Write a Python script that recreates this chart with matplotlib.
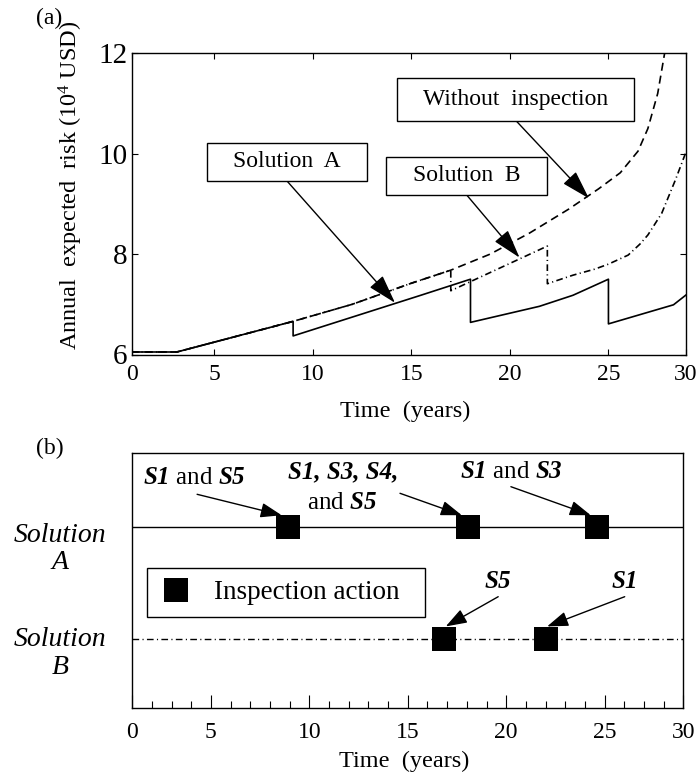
import matplotlib
matplotlib.use('Agg')
import matplotlib.pyplot as plt
import matplotlib.transforms as mtransforms
from matplotlib.patches import Rectangle
from matplotlib.lines import Line2D

plt.rcParams['font.family'] = ['Liberation Serif', 'DejaVu Serif']
plt.rcParams['mathtext.fontset'] = 'custom'
plt.rcParams['mathtext.rm'] = 'Liberation Serif'
plt.rcParams['mathtext.it'] = 'Liberation Serif:italic'
plt.rcParams['mathtext.bf'] = 'Liberation Serif:bold:italic'
plt.rcParams['lines.scale_dashes'] = False

# ---------------- data (a) ----------------
time_no_insp = [0.8, 3.1, 9.0, 12.0, 15.0, 17.0, 19.0, 21.0, 23.0, 24.5, 25.6, 26.5, 27.0, 27.5, 27.85, 28.2]
risk_no_insp = [6.05, 6.05, 6.66, 7.0, 7.42, 7.68, 8.0, 8.42, 8.9, 9.3, 9.62, 10.05, 10.5, 11.2, 12.0, 12.8]

time_sol_a = [0.8, 3.1, 9.0, 9.0, 15.4, 18.0, 18.0, 21.5, 23.2, 25.0, 25.0, 28.3, 28.95]
risk_sol_a = [6.05, 6.05, 6.66, 6.37, 7.17, 7.50, 6.64, 6.96, 7.18, 7.50, 6.61, 6.99, 7.19]

time_sol_b = [0.8, 3.1, 9.0, 12.0, 15.0, 17.0, 17.0, 21.9, 21.9, 23.2, 24.3, 25.0, 26.0, 26.6, 27.0, 27.7, 28.4, 28.95]
risk_sol_b = [6.05, 6.05, 6.66, 7.0, 7.42, 7.68, 7.27, 8.16, 7.41, 7.58, 7.70, 7.80, 7.98, 8.2, 8.38, 8.81, 9.48, 10.05]

xtick_labels = ['0', '5', '10', '15', '20', '25', '30']
ytick_values = [6, 8, 10, 12]

# ---------------- data (b) ----------------
insp_time_a = [8.9, 18.05, 24.6]
insp_time_b = [16.85, 22.0]
insp_label_a = [r'$\mathbf{S1}$ and $\mathbf{S5}$', 'S1, S3, S4,', r'$\mathbf{S1}$ and $\mathbf{S3}$']
insp_label_b = [r'$\mathbf{S5}$', r'$\mathbf{S1}$']

W, H = 698, 784


def px(x, y):
    return (x / W, 1 - y / H)


fig = plt.figure(figsize=(W / 100, H / 100), dpi=100)

# ================= panel (a) =================
ax1 = fig.add_axes([131.7 / W, 1 - 354.5 / H, 554 / W, 301.2 / H])
ax1.plot(time_no_insp, risk_no_insp, color='k', lw=1.2, ls=(0, (5.8, 3.6)))
ax1.plot(time_sol_a, risk_sol_a, color='k', lw=1.2, ls='-')
ax1.plot(time_sol_b, risk_sol_b, color='k', lw=1.2, ls=(0, (4.8, 2.4, 0.8, 2.4)))
ax1.set_xlim(0.81, 28.92)
ax1.set_ylim(6, 12)
ax1.set_xticks([0.81, 5, 10, 15, 20, 25, 28.92])
ax1.set_xticklabels(xtick_labels)
ax1.set_yticks(ytick_values)
ax1.tick_params(direction='in', top=True, right=True, length=4, width=0.8)
ax1.tick_params(axis='x', labelsize=17, pad=7)
ax1.tick_params(axis='y', labelsize=21, pad=3)
for s in ax1.spines.values():
    s.set_linewidth(1.0)

fig.text(*px(71, 185), 'Annual  expected  risk (10$^4$ USD)', rotation=90,
         ha='center', va='center', fontsize=17.5)
fig.text(*px(405, 411), 'Time  (years)', ha='center', va='center', fontsize=17.5)
fig.text(*px(49, 18), '(a)', ha='center', va='center', fontsize=17)

# boxed annotations
boxes = [
    ('Without  inspection', (397.4, 77.7, 633.5, 120.7), (516, 120.7), (24.01, 9.11)),
    ('Solution  A', (206.5, 142.7, 367.4, 181.0), (287, 181.0), (14.17, 7.03)),
    ('Solution  B', (386.4, 156.7, 547.0, 195.0), (466.7, 195.0), (20.49, 7.93)),
]
for label, (x0, y0, x1, y1), start, tip in boxes:
    fx0, fy1 = px(x0, y1)
    fx1, fy0 = px(x1, y0)
    fig.add_artist(Rectangle((fx0, fy1), fx1 - fx0, fy0 - fy1, transform=fig.transFigure,
                             facecolor='white', edgecolor='k', lw=1.0))
    fig.text(*px((x0 + x1) / 2, (y0 + y1) / 2), label, ha='center', va='center', fontsize=17)
    ax1.annotate('', xy=tip, xycoords='data', xytext=px(*start), textcoords='figure fraction',
                 arrowprops=dict(arrowstyle='-|>,head_length=1.0,head_width=0.3',
                                 mutation_scale=18, color='k', lw=1.0, shrinkA=0, shrinkB=0),
                 annotation_clip=False)

# ================= panel (b) =================
ax2 = fig.add_axes([131.8 / W, 1 - 708.3 / H, 551.6 / W, 255 / H])
level_a, level_b = 0.71, 0.27
ax2.axhline(level_a, color='k', lw=1.0)
ax2.axhline(level_b, color='k', lw=1.0, ls=(0, (4.8, 2.4, 0.8, 2.4)))
ax2.plot(insp_time_a, [level_a] * len(insp_time_a), 's', color='k', ms=17.5, mew=0, zorder=3)
ax2.plot(insp_time_b, [level_b] * len(insp_time_b), 's', color='k', ms=17.5, mew=0, zorder=3)
ax2.set_xlim(0.98, 29.0)
ax2.set_ylim(0, 1)
ax2.set_xticks([0.98, 5, 10, 15, 20, 25, 29.0])
ax2.set_xticklabels(xtick_labels)
ax2.set_xticks([m for m in range(2, 29) if m % 5 != 0], minor=True)
ax2.set_yticks([])
ax2.tick_params(axis='x', which='major', direction='in', length=9.4, width=0.8, labelsize=17, pad=10)
ax2.tick_params(axis='x', which='minor', direction='in', length=4.8, width=0.8)
for s in ax2.spines.values():
    s.set_linewidth(1.0)

fig.text(*px(404, 761), 'Time  (years)', ha='center', va='center', fontsize=17.5)
fig.text(*px(50, 448), '(b)', ha='center', va='center', fontsize=17)
fig.text(*px(60, 549), 'Solution\nA', ha='center', va='center', fontsize=20,
         fontstyle='italic', linespacing=1.15)
fig.text(*px(60, 653.5), 'Solution\nB', ha='center', va='center', fontsize=20,
         fontstyle='italic', linespacing=1.15)

leg_handle = Line2D([], [], marker='s', color='k', ls='none', ms=17.5, mew=0)
leg = ax2.legend([leg_handle], ['Inspection action  '], loc='upper left',
                 bbox_to_anchor=(0.028, 0.551), borderaxespad=0, fancybox=False,
                 edgecolor='k', framealpha=1, fontsize=19.5, handlelength=1.2,
                 handletextpad=0.8, borderpad=0.45)
leg.get_frame().set_linewidth(1.0)

ann_arrow = dict(arrowstyle='-|>,head_length=1.0,head_width=0.35', mutation_scale=13,
                 color='k', lw=1.0, shrinkA=0, shrinkB=0)
text_pos_a = [(194.5, 478), (342.7, 471.7), (511, 471.7)]
start_a = [(197.1, 494.3), (400, 493.3), (510.9, 486.7)]
for t, lab, tp, st in zip(insp_time_a, insp_label_a, text_pos_a, start_a):
    if '$' in lab:
        fig.text(*px(*tp), lab, ha='center', va='center', fontsize=18)
    else:
        fig.text(*px(*tp), lab, ha='center', va='center', fontsize=18,
                 fontweight='bold', fontstyle='italic')
    tr = mtransforms.offset_copy(ax2.transData, fig=fig, x=-6, y=12, units='dots')
    ax2.annotate('', xy=(t, level_a), xycoords=tr, xytext=px(*st), textcoords='figure fraction',
                 arrowprops=ann_arrow, annotation_clip=False)
fig.text(*px(342.4, 503.3), r'and $\mathbf{S5}$', ha='center', va='center', fontsize=18)

text_pos_b = [(498, 581.7), (623.6, 581.7)]
start_b = [(498.2, 596.7), (624.7, 596.7)]
for t, lab, tp, st in zip(insp_time_b, insp_label_b, text_pos_b, start_b):
    fig.text(*px(*tp), lab, ha='center', va='center', fontsize=18)
    tr = mtransforms.offset_copy(ax2.transData, fig=fig, x=1.5, y=13, units='dots')
    ax2.annotate('', xy=(t, level_b), xycoords=tr, xytext=px(*st), textcoords='figure fraction',
                 arrowprops=ann_arrow, annotation_clip=False)

fig.savefig('out.png', dpi=100)
